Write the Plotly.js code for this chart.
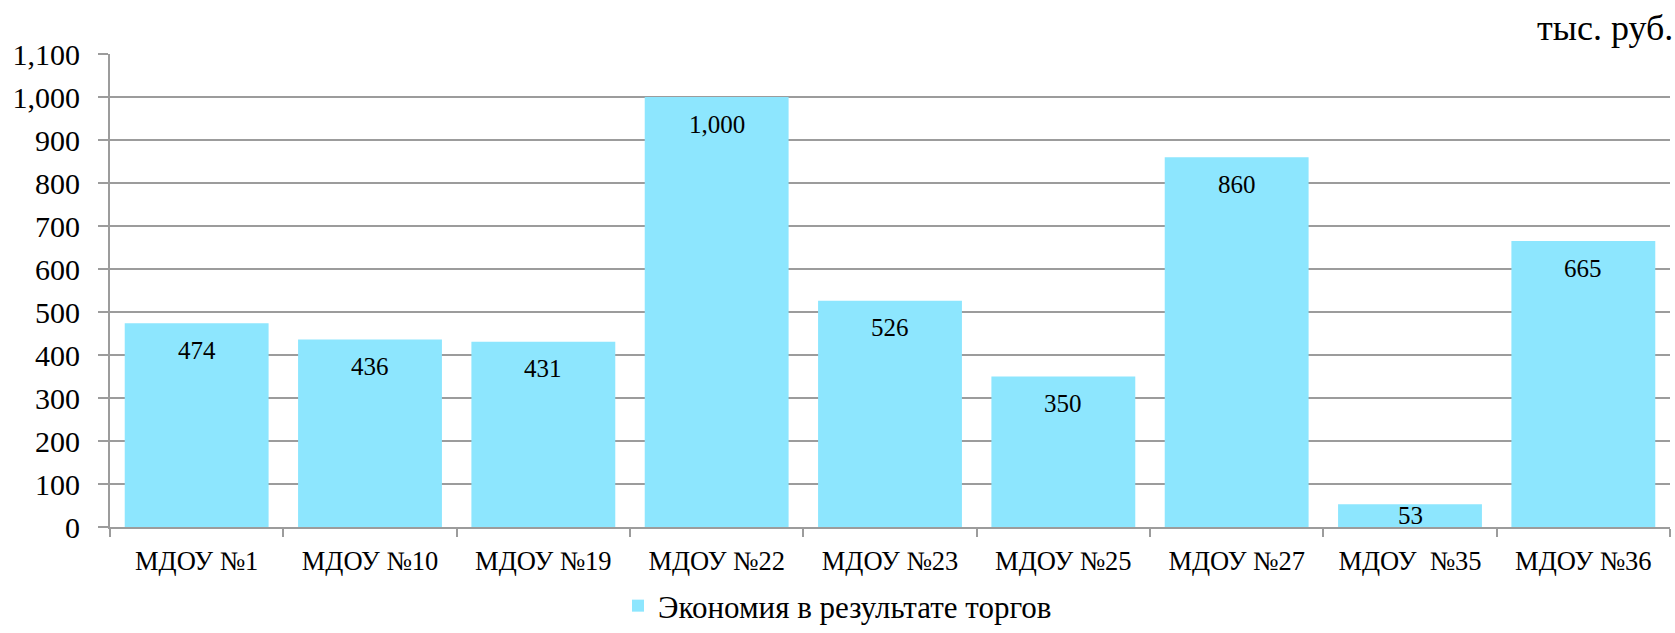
<!DOCTYPE html>
<html>
<head>
<meta charset="utf-8">
<script src="https://cdn.plot.ly/plotly-3.0.1.min.js"></script>
<style>html,body{margin:0;padding:0;background:#fff;}#chart{width:1675px;height:633px;}</style>
</head>
<body>
<div id="chart"></div>
<script>
const categories = ["МДОУ №1", "МДОУ №10", "МДОУ №19", "МДОУ №22", "МДОУ №23", "МДОУ №25", "МДОУ №27", "МДОУ \u00a0№35", "МДОУ №36"];
const values = [474, 436, 431, 1000, 526, 350, 860, 53, 665];
const seriesName = "Экономия в результате торгов";
const unitLabel = "тыс. руб.";
const yTickVals = [0, 100, 200, 300, 400, 500, 600, 700, 800, 900, 1000, 1100];

const FONT = "Liberation Serif, Times New Roman, serif";
const GRID = "#9c9c9c";

const trace = {
  type: "bar",
  x: categories,
  y: values,
  name: seriesName,
  marker: {color: "#8de6fe"},
  showlegend: true,
  hoverinfo: "skip"
};

const annotations = values.map((v, i) => {
  const small = v < 100;
  return {
    x: categories[i], y: small ? v / 2 : v, xref: "x", yref: "y",
    text: v.toLocaleString("en-US"),
    showarrow: false, yanchor: "middle", yshift: small ? 0 : -27,
    font: {family: FONT, size: 25, color: "#000"}
  };
});
annotations.push({
  xref: "paper", yref: "paper", x: 1.003, y: 1.055, xanchor: "right", yanchor: "middle",
  text: unitLabel, showarrow: false,
  font: {family: FONT, size: 36, color: "#000"}
});

const layout = {
  width: 1675, height: 633,
  margin: {l: 110, r: 5, t: 54, b: 106},
  paper_bgcolor: "#fff", plot_bgcolor: "#fff",
  font: {family: FONT, color: "#000"},
  bargap: 0.17,
  xaxis: {
    type: "category",
    tickson: "boundaries",
    ticks: "outside", ticklen: 8, tickwidth: 2, tickcolor: GRID,
    showline: true, linecolor: GRID, linewidth: 2,
    showgrid: false,
    tickfont: {family: FONT, size: 26.5, color: "#000"},
    ticklabelstandoff: 9
  },
  yaxis: {
    range: [0, 1100],
    tickvals: yTickVals,
    ticktext: yTickVals.map(v => v.toLocaleString("en-US")),
    ticks: "outside", ticklen: 10, tickwidth: 2, tickcolor: GRID,
    showline: true, linecolor: GRID, linewidth: 2,
    showgrid: true, gridcolor: GRID, gridwidth: 2,
    zeroline: false,
    tickfont: {family: FONT, size: 30, color: "#000"},
    ticklabelstandoff: 12
  },
  legend: {
    orientation: "h", xref: "container", yref: "container",
    x: 0.5, xanchor: "center", y: -0.012, yanchor: "bottom",
    font: {family: FONT, size: 31, color: "#000"}
  },
  annotations: annotations
};

Plotly.newPlot("chart", [trace], layout, {displayModeBar: false, staticPlot: true});
</script>
</body>
</html>
